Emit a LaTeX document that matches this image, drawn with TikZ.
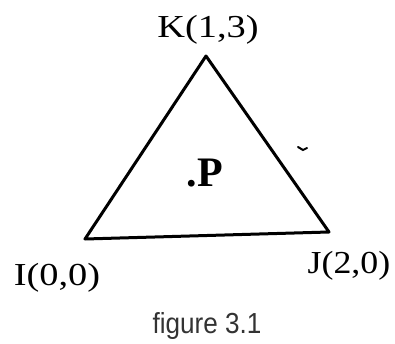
\documentclass[tikz,border=0pt]{standalone}
\usepackage{fontspec}
\setmainfont{Liberation Serif}
\newfontfamily\capfont{Liberation Sans}
\begin{document}
\begin{tikzpicture}[x=1pt,y=1pt,
  edge/.style={line width=3pt, line join=round, line cap=round},
  vlabel/.style={anchor=base, inner sep=0pt, font=\fontsize{32}{36}\selectfont},
  plabel/.style={anchor=base, inner sep=0pt, font=\fontsize{42}{46}\selectfont\bfseries},
  caption/.style={anchor=base, inner sep=0pt, text=black!80, font=\capfont\fontsize{29}{32}\selectfont}]
\useasboundingbox (0,0) rectangle (395,343);
\coordinate (I) at (85,104);
\coordinate (J) at (329,111);
\coordinate (K) at (206,287);
\draw[edge] (I) -- (J) -- (K) -- cycle;
\node[vlabel] (kl) at (208,305) {\scalebox{1.2}[1]{K(1,3)}};
\node[vlabel] (il) at (57,58) {\scalebox{1.2}[1]{I(0,0)}};
\node[vlabel] (jl) at (349,70) {\scalebox{1.12}[1]{J(2,0)}};
\node[plabel] (p) at (205,157) {.P};
\node[caption] (cap) at (207,10) {\scalebox{0.9}[1]{figure 3.1}};
\draw[line width=2pt, line cap=round] (298,196) -- (303,193) -- (307,195);
\end{tikzpicture}
\end{document}
